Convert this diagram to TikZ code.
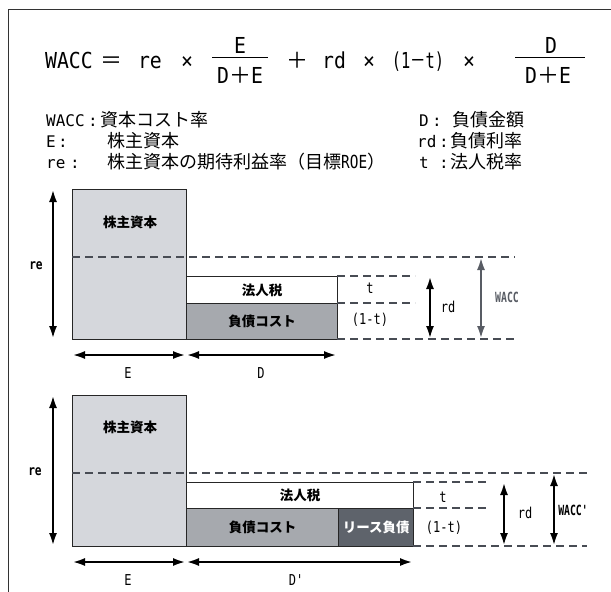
\documentclass[tikz,border=0pt]{standalone}
\usepackage{fontspec}
\setmainfont{Noto Sans CJK JP}
\newfontfamily\monofam{DejaVu Sans Mono}
\usepackage{graphicx}
\usetikzlibrary{positioning,arrows.meta}
\definecolor{eqfill}{RGB}{213,215,220}
\definecolor{debtfill}{RGB}{166,169,174}
\definecolor{leasefill}{RGB}{94,99,107}
\definecolor{dashgray}{RGB}{72,76,84}
\definecolor{waccgray}{RGB}{88,92,100}
\newcommand{\fm}[1]{\scalebox{.9}[1]{\monofam #1}}
\newcommand{\lat}[1]{\scalebox{.8}[1]{\monofam #1}}
\newcommand{\tight}[1]{\scalebox{.7}[1]{\monofam #1}}
\tikzset{
  fx/.style={font=\fontsize{22}{22}\selectfont,anchor=base,inner sep=0pt},
  leg/.style={font=\fontsize{18}{18}\selectfont,anchor=base west,inner sep=0pt},
  legl/.style={font=\fontsize{16}{16}\selectfont\monofam,anchor=base west,inner sep=0pt},
  blk/.style={draw=black!85,line width=1.4pt,inner sep=0pt,anchor=north west},
  blab/.style={font=\bfseries\fontsize{13.5}{13.5}\selectfont,inner sep=0pt},
  dlab/.style={font=\fontsize{15}{15}\selectfont,inner sep=0pt},
  blat/.style={font=\bfseries\fontsize{14}{14}\selectfont,inner sep=0pt},
  guide/.style={draw=dashgray,line width=1.7pt,dash pattern=on 8pt off 5pt},
  dim/.style={line width=2.6pt,{Latex[length=13pt,width=8pt]}-{Latex[length=13pt,width=8pt]}},
}
\begin{document}
\begin{tikzpicture}[x=1pt,y=-1pt]
\useasboundingbox (0,0) rectangle (611,592);
\draw[black!80,line width=1pt] (611,9.5) -- (8.5,9.5) -- (8.5,592);

\node[fx] (fwacc) at (69,68) {\fm{WACC}};
\node[fx] (feq) at (111,68) {＝};
\node[fx] (fre) at (150,68) {\fm{re}};
\node[fx] (ftimesa) at (187,68) {\fm{×}};
\node[fx] (fnuma) at (240,53) {\fm{E}};
\node[fx] (fdena) at (240,83) {\fm{D}＋\fm{E}};
\draw[line width=1pt] (212,57) -- (268,57);
\node[fx] (fplus) at (297,68) {＋};
\node[fx] (frd) at (334,68) {\fm{rd}};
\node[fx] (ftimesb) at (369,68) {\fm{×}};
\node[fx] (ftax) at (418,68) {\scalebox{.7}[1]{{\monofam(1}－{\monofam t)}}};
\node[fx] (ftimesc) at (469,68) {\fm{×}};
\node[fx] (fnumb) at (551,53) {\fm{D}};
\node[fx] (fdenb) at (548,83) {\fm{D}＋\fm{E}};
\draw[line width=1pt] (515,57) -- (585,57);

\node[legl] (lwacc) at (46,126) {WACC};
\node[legl] (lwaccc) at (88,126) {:};
\node[leg] (lwaccj) at (100,126) {資本コスト率};
\node[legl] (le) at (46,147) {E};
\node[legl] (lec) at (58,147) {:};
\node[leg] (lej) at (107,147) {株主資本};
\node[legl] (lre) at (46,168) {re};
\node[legl] (lrec) at (70,168) {:};
\node[leg] (lrej) at (107,168) {株主資本の期待利益率（目標\lat{ROE}）};
\node[legl] (ld) at (419,126) {D};
\node[legl] (ldc) at (432,126) {:};
\node[leg] (ldj) at (452,126) {負債金額};
\node[legl] (lrd) at (417,147) {rd};
\node[legl] (lrdc) at (439,147) {:};
\node[leg] (lrdj) at (450,147) {負債利率};
\node[legl] (lt) at (419,168) {t};
\node[legl] (ltc) at (439,168) {:};
\node[leg] (ltj) at (450,168) {法人税率};

\node[blk,fill=eqfill,minimum width=114pt,minimum height=150pt] (eqa) at (72,189) {};
\node[blk,fill=white,minimum width=151pt,minimum height=27pt] (taxa) at (186,276) {};
\node[blk,fill=debtfill,minimum width=151pt,minimum height=36pt] (debta) at (186,303) {};
\node[blab] (eqlaba) at (130,222) {株主資本};
\node[blab] (taxlaba) at (taxa) {法人税};
\node[blab] (debtlaba) at (debta) {負債コスト};
\draw[guide] (72,257) -- (515,257);
\draw[guide] (337,276) -- (415,276);
\draw[guide] (337,303) -- (415,303);
\draw[guide] (337,339) -- (515,339);
\coordinate (rea1) at (53,189);
\coordinate (rea2) at (53,339);
\coordinate (ea1) at (72,355);
\coordinate (ea2) at (186,355);
\coordinate (da2) at (337,355);
\coordinate (rda1) at (430,276);
\coordinate (rda2) at (430,339);
\coordinate (wa1) at (481,257);
\coordinate (wa2) at (481,339);
\draw[dim] (rea1) -- (rea2);
\draw[dim] (ea1) -- (ea2);
\draw[dim] (ea2) -- (da2);
\draw[dim] (rda1) -- (rda2);
\draw[dim,waccgray] (wa1) -- (wa2);
\node[blat] (relaba) at (36,266) {\lat{re}};
\node[dlab] (elaba) at (128,373) {\lat{E}};
\node[dlab] (dlaba) at (261,373) {\lat{D}};
\node[dlab] (tlaba) at (370,288) {\lat{t}};
\node[dlab] (omtlaba) at (370,320) {\lat{(1-t)}};
\node[dlab] (rdlaba) at (448,307) {\lat{rd}};
\node[blat,waccgray] (wlaba) at (507,297) {\tight{WACC}};

\node[blk,fill=eqfill,minimum width=114pt,minimum height=151pt] (eqb) at (72,395) {};
\node[blk,fill=white,minimum width=227pt,minimum height=26pt] (taxb) at (186,482) {};
\node[blk,fill=debtfill,minimum width=152pt,minimum height=38pt] (debtb) at (186,508) {};
\node[blk,fill=leasefill,minimum width=75pt,minimum height=38pt] (leaseb) at (338,508) {};
\node[blab] (eqlabb) at (130,427) {株主資本};
\node[blab] (taxlabb) at (taxb) {法人税};
\node[blab] (debtlabb) at (debtb) {負債コスト};
\node[blab,white] (leaselabb) at (leaseb) {リース負債};
\draw[guide] (72,473) -- (587,473);
\draw[guide] (413,482) -- (490,482);
\draw[guide] (413,508) -- (490,508);
\draw[guide] (413,546) -- (587,546);
\coordinate (reb1) at (53,395);
\coordinate (reb2) at (53,546);
\coordinate (eb1) at (72,562);
\coordinate (eb2) at (186,562);
\coordinate (db2) at (413,562);
\coordinate (rdb1) at (504,482);
\coordinate (rdb2) at (504,546);
\coordinate (wb1) at (554,473);
\coordinate (wb2) at (554,546);
\draw[dim] (reb1) -- (reb2);
\draw[dim] (eb1) -- (eb2);
\draw[dim] (eb2) -- (db2);
\draw[dim] (rdb1) -- (rdb2);
\draw[dim] (wb1) -- (wb2);
\node[blat] (relabb) at (35,472) {\lat{re}};
\node[dlab] (elabb) at (128,580) {\lat{E}};
\node[dlab] (dlabb) at (296,580) {\lat{D'}};
\node[dlab] (tlabb) at (443,497) {\lat{t}};
\node[dlab] (omtlabb) at (444,528) {\lat{(1-t)}};
\node[dlab] (rdlabb) at (525,513) {\lat{rd}};
\node[blat] (wlabb) at (573,510) {\tight{WACC'}};
\end{tikzpicture}
\end{document}
